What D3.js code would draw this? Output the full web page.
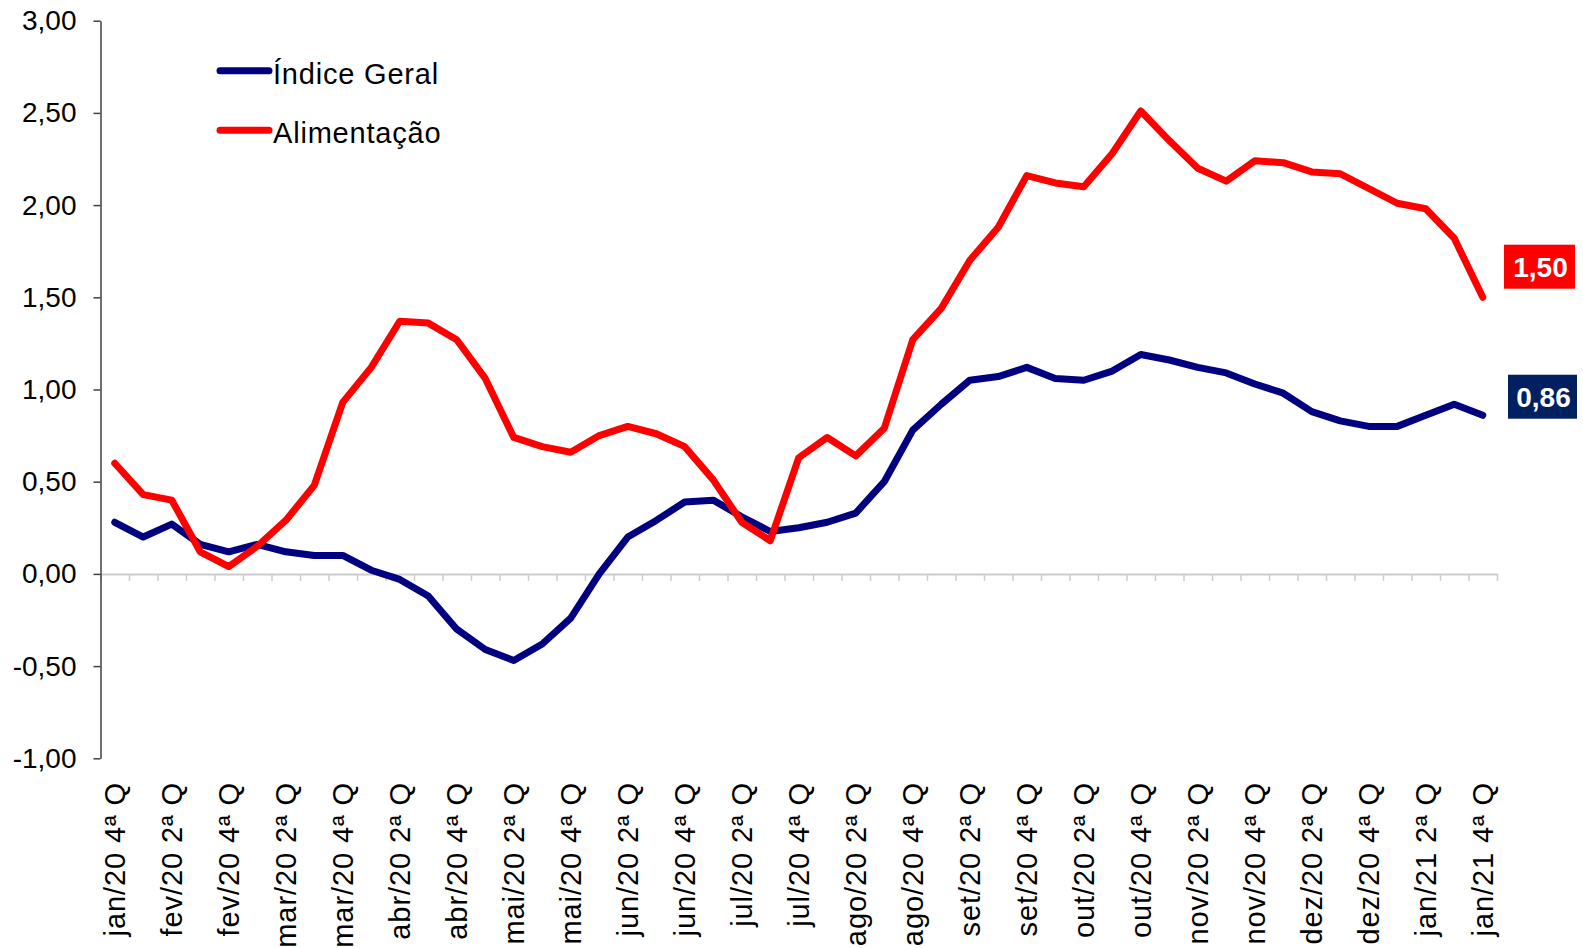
<!DOCTYPE html>
<html>
<head>
<meta charset="utf-8">
<script src="https://cdn.jsdelivr.net/npm/d3@7"></script>
<style>
  html, body { margin: 0; padding: 0; background: #fff; }
  svg { display: block; font-family: "Liberation Sans", Arial, sans-serif; }
</style>
</head>
<body>
<svg id="chart" width="1583" height="948"></svg>
<script>
const categories = [
  'jan/20 4ª Q',
  'fev/20 1ª Q', 'fev/20 2ª Q', 'fev/20 3ª Q', 'fev/20 4ª Q',
  'mar/20 1ª Q', 'mar/20 2ª Q', 'mar/20 3ª Q', 'mar/20 4ª Q',
  'abr/20 1ª Q', 'abr/20 2ª Q', 'abr/20 3ª Q', 'abr/20 4ª Q',
  'mai/20 1ª Q', 'mai/20 2ª Q', 'mai/20 3ª Q', 'mai/20 4ª Q',
  'jun/20 1ª Q', 'jun/20 2ª Q', 'jun/20 3ª Q', 'jun/20 4ª Q',
  'jul/20 1ª Q', 'jul/20 2ª Q', 'jul/20 3ª Q', 'jul/20 4ª Q',
  'ago/20 1ª Q', 'ago/20 2ª Q', 'ago/20 3ª Q', 'ago/20 4ª Q',
  'set/20 1ª Q', 'set/20 2ª Q', 'set/20 3ª Q', 'set/20 4ª Q',
  'out/20 1ª Q', 'out/20 2ª Q', 'out/20 3ª Q', 'out/20 4ª Q',
  'nov/20 1ª Q', 'nov/20 2ª Q', 'nov/20 3ª Q', 'nov/20 4ª Q',
  'dez/20 1ª Q', 'dez/20 2ª Q', 'dez/20 3ª Q', 'dez/20 4ª Q',
  'jan/21 1ª Q', 'jan/21 2ª Q', 'jan/21 3ª Q', 'jan/21 4ª Q'
];
// labels shown on the x axis (every second period)
const tickLabels = categories.filter((c, i) => i % 2 === 0);

const indiceGeral = [
  0.28, 0.20, 0.27, 0.16, 0.12, 0.16, 0.12, 0.10, 0.10, 0.02,
  -0.03, -0.12, -0.30, -0.41, -0.47, -0.38, -0.24, 0.00, 0.20, 0.29,
  0.39, 0.40, 0.31, 0.23, 0.25, 0.28, 0.33, 0.50, 0.78, 0.92,
  1.05, 1.07, 1.12, 1.06, 1.05, 1.10, 1.19, 1.16, 1.12, 1.09,
  1.03, 0.98, 0.88, 0.83, 0.80, 0.80, 0.86, 0.92, 0.86
];
const alimentacao = [
  0.60, 0.43, 0.40, 0.12, 0.04, 0.15, 0.29, 0.48, 0.93, 1.12,
  1.37, 1.36, 1.27, 1.06, 0.74, 0.69, 0.66, 0.75, 0.80, 0.76,
  0.69, 0.51, 0.28, 0.18, 0.63, 0.74, 0.64, 0.79, 1.27, 1.44,
  1.70, 1.88, 2.16, 2.12, 2.10, 2.28, 2.51, 2.35, 2.20, 2.13,
  2.24, 2.23, 2.18, 2.17, 2.09, 2.01, 1.98, 1.82, 1.50
];
const yTicks = [-1, -0.5, 0, 0.5, 1, 1.5, 2, 2.5, 3];

const series = [
  { name: 'Índice Geral', values: indiceGeral, color: '#000080', boxColor: '#002060' },
  { name: 'Alimentação', values: alimentacao, color: '#ff0000', boxColor: '#ff0000' }
];

const svg = d3.select('#chart');
const plot = { left: 100.5, right: 1497, top: 20.7, bottom: 758.3 };

const ptBr = d3.formatLocale({ decimal: ',', thousands: '.', grouping: [3], currency: ['R$', ''], minus: '-' });
const fmt = ptBr.format('.2f');

const x = d3.scaleBand().domain(categories).range([plot.left, plot.right]).padding(0);
const xIdx = d3.scaleLinear().domain([0, categories.length]).range([plot.left, plot.right]);
const y = d3.scaleLinear().domain([-1, 3]).range([plot.bottom, plot.top]);
const cx = c => x(c) + x.bandwidth() / 2;

// zero line with a tick at every period boundary
const xAxis = svg.append('g')
  .attr('transform', `translate(0,${y(0)})`)
  .call(d3.axisBottom(xIdx).tickValues(d3.range(categories.length + 1)).tickSize(7).tickSizeOuter(0).tickFormat(''));
xAxis.select('.domain').attr('stroke', '#cccccc').attr('stroke-width', 2);
xAxis.selectAll('.tick line').attr('stroke', '#cccccc').attr('stroke-width', 1.5);

// y axis
const yAxis = svg.append('g')
  .attr('transform', `translate(${plot.left},0)`)
  .call(d3.axisLeft(y).tickValues(yTicks).tickSize(7).tickSizeOuter(0).tickPadding(17).tickFormat(fmt));
yAxis.select('.domain').attr('stroke', '#404040').attr('stroke-width', 1.5);
yAxis.selectAll('.tick line').attr('stroke', '#404040').attr('stroke-width', 1.5);
yAxis.selectAll('.tick text')
  .attr('font-size', 28)
  .attr('font-family', '"Liberation Sans", Arial, sans-serif')
  .attr('fill', '#000');

// x labels under the plot
svg.append('g').selectAll('text').data(tickLabels).enter().append('text')
  .attr('transform', d => `translate(${cx(d)},782) rotate(-90)`)
  .attr('text-anchor', 'end')
  .attr('dy', '0.35em')
  .attr('font-size', 29)
  .attr('letter-spacing', 0.9)
  .attr('fill', '#000')
  .text(d => d);

// lines
const line = d3.line().x((d, i) => cx(categories[i])).y(d => y(d));
svg.append('g').selectAll('path').data(series).enter().append('path')
  .attr('d', s => line(s.values))
  .attr('fill', 'none')
  .attr('stroke', s => s.color)
  .attr('stroke-width', 7)
  .attr('stroke-linejoin', 'round')
  .attr('stroke-linecap', 'round');

// legend
const legend = svg.append('g').selectAll('g').data(series).enter().append('g')
  .attr('transform', (d, i) => `translate(220,${70.7 + i * 59.5})`);
legend.append('line')
  .attr('x1', 0).attr('x2', 49)
  .attr('stroke', d => d.color)
  .attr('stroke-width', 7)
  .attr('stroke-linecap', 'round');
legend.append('text')
  .attr('x', 53)
  .attr('dy', '0.45em')
  .attr('font-size', 29)
  .attr('letter-spacing', 0.8)
  .attr('fill', '#000')
  .text(d => d.name);

// last value boxes
const lastIdx = categories.length - 1;
const boxes = [
  { s: series[1], dy: -52.6, x0: 1504, w: 71 },
  { s: series[0], dy: -40.6, x0: 1508, w: 69 }
];
const box = svg.append('g').selectAll('g').data(boxes).enter().append('g')
  .attr('transform', b => `translate(${b.x0},${y(b.s.values[lastIdx]) + b.dy})`);
box.append('rect')
  .attr('width', b => b.w)
  .attr('height', 44)
  .attr('fill', b => b.s.boxColor);
box.append('text')
  .attr('x', b => b.w / 2 + 1)
  .attr('y', 22)
  .attr('dy', '0.36em')
  .attr('text-anchor', 'middle')
  .attr('font-size', 28)
  .attr('font-weight', 700)
  .attr('fill', '#fff')
  .text(b => fmt(b.s.values[lastIdx]));
</script>
</body>
</html>
